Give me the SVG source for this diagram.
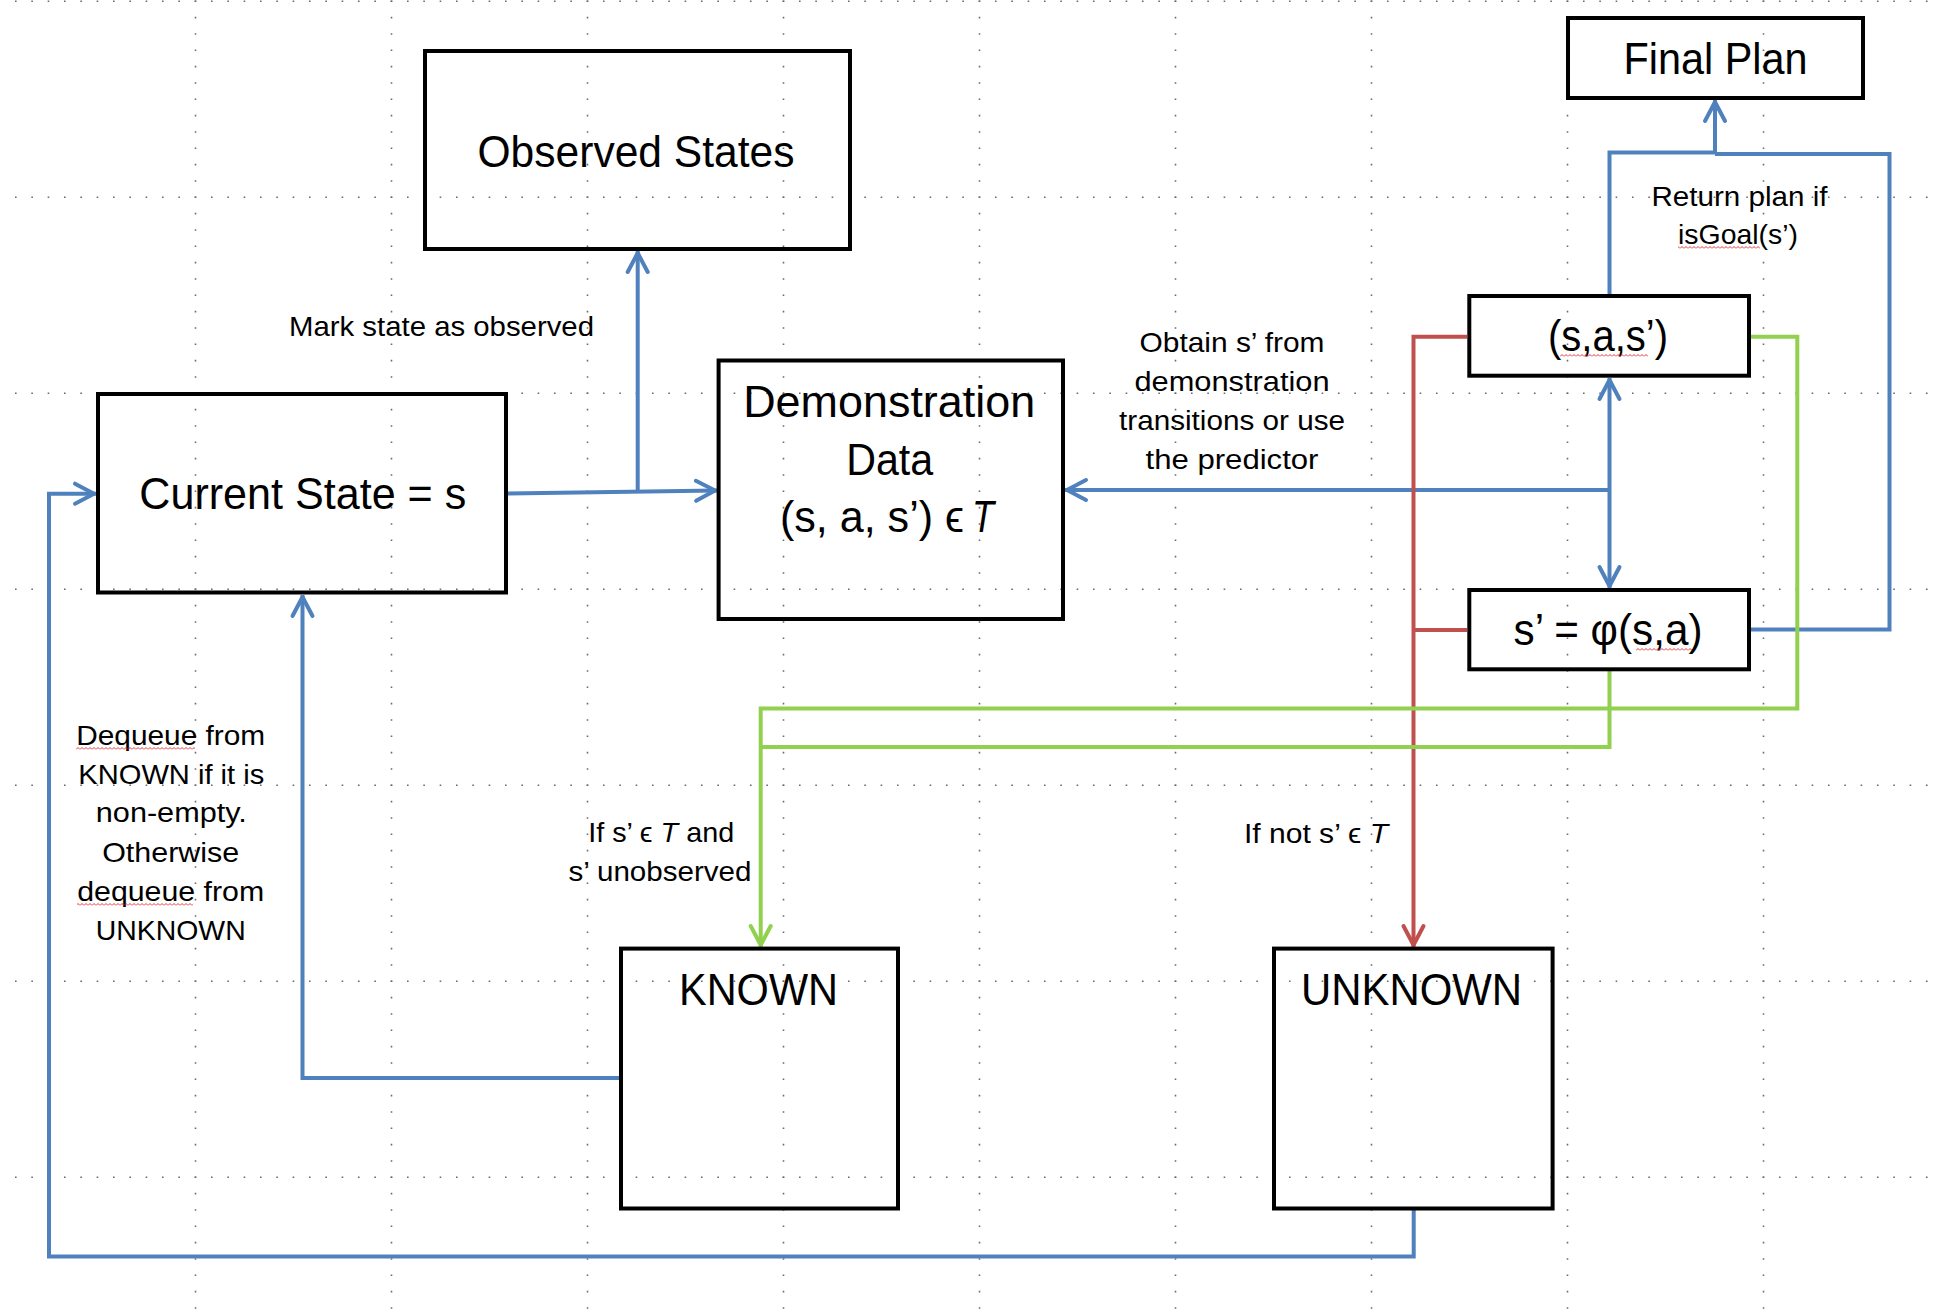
<svg xmlns="http://www.w3.org/2000/svg" width="1936" height="1310" viewBox="0 0 1936 1310">
<style>
.box{fill:none;stroke:#000;stroke-width:4}
.big{font-family:"Liberation Sans",Arial,sans-serif;font-size:44px;fill:#000;text-anchor:middle}
.sm{font-family:"Liberation Sans",Arial,sans-serif;font-size:27.5px;fill:#000;text-anchor:middle}
.st{text-anchor:start}
.it{font-style:italic}
.c{fill:none;stroke-width:4;stroke-linejoin:miter}
.blue{stroke:#4F81BD}
.red{stroke:#C0504D}
.green{stroke:#92D050}
.grid line{stroke:#6b6b6b;stroke-width:1.6;stroke-dasharray:1.6 14.733}
</style>
<defs>
<marker id="ab" markerUnits="userSpaceOnUse" orient="auto-start-reverse" markerWidth="40" markerHeight="40" refX="0" refY="0" viewBox="-30 -20 40 40" style="overflow:visible">
<path d="M-21,-10 L-2,0 L-21,10" fill="none" stroke="#4F81BD" stroke-width="4" stroke-linecap="round" stroke-linejoin="round"/>
</marker>
<marker id="ar" markerUnits="userSpaceOnUse" orient="auto" markerWidth="40" markerHeight="40" refX="0" refY="0" viewBox="-30 -20 40 40" style="overflow:visible">
<path d="M-21,-10 L-2,0 L-21,10" fill="none" stroke="#C0504D" stroke-width="4" stroke-linecap="round" stroke-linejoin="round"/>
</marker>
<marker id="ag" markerUnits="userSpaceOnUse" orient="auto" markerWidth="40" markerHeight="40" refX="0" refY="0" viewBox="-30 -20 40 40" style="overflow:visible">
<path d="M-21,-10 L-2,0 L-21,10" fill="none" stroke="#92D050" stroke-width="4" stroke-linecap="round" stroke-linejoin="round"/>
</marker>
<pattern id="sq" width="4" height="3" patternUnits="userSpaceOnUse">
<path d="M0,2.5 L2,0.5 L4,2.5" fill="none" stroke="#E02020" stroke-width="0.9"/>
</pattern>
</defs>
<rect width="1936" height="1310" fill="#fff"/>
<g class="grid">
<line x1="15" y1="1.3" x2="1936" y2="1.3"/>
<line x1="15" y1="197.3" x2="1936" y2="197.3"/>
<line x1="15" y1="393.3" x2="1936" y2="393.3"/>
<line x1="15" y1="589.3" x2="1936" y2="589.3"/>
<line x1="15" y1="785.3" x2="1936" y2="785.3"/>
<line x1="15" y1="981.3" x2="1936" y2="981.3"/>
<line x1="15" y1="1177.3" x2="1936" y2="1177.3"/>
<line x1="195.5" y1="0.5" x2="195.5" y2="1310"/>
<line x1="391.5" y1="0.5" x2="391.5" y2="1310"/>
<line x1="587.5" y1="0.5" x2="587.5" y2="1310"/>
<line x1="783.5" y1="0.5" x2="783.5" y2="1310"/>
<line x1="979.5" y1="0.5" x2="979.5" y2="1310"/>
<line x1="1175.5" y1="0.5" x2="1175.5" y2="1310"/>
<line x1="1371.5" y1="0.5" x2="1371.5" y2="1310"/>
<line x1="1567.5" y1="0.5" x2="1567.5" y2="1310"/>
<line x1="1763.5" y1="0.5" x2="1763.5" y2="1310"/>
</g>
<g id="connectors">
<path class="c blue" d="M506,493.5 L717,490.5" marker-end="url(#ab)"/>
<path class="c blue" d="M637.7,491 V251" marker-end="url(#ab)"/>
<path class="c blue" d="M1609.5,490 H1065" marker-end="url(#ab)"/>
<path class="c blue" d="M1609.5,378 V588" marker-start="url(#ab)" marker-end="url(#ab)"/>
<path class="c blue" d="M1609.5,294 V152.5 H1715 M1715,154 H1889.5 V629.5 H1751"/>
<path class="c blue" d="M1715,154 V100" marker-end="url(#ab)"/>
<path class="c blue" d="M619,1078 H302.5 V595" marker-end="url(#ab)"/>
<path class="c blue" d="M1413.7,1210 V1256.5 H49 V493.7 H96" marker-end="url(#ab)"/>
<path class="c red" d="M1467,336.7 H1413.5 V947" marker-end="url(#ar)"/>
<path class="c red" d="M1467,630 H1413.5"/>
<path class="c green" d="M1751,336.7 H1797.3 V708.5 H760.7 V947" marker-end="url(#ag)"/>
<path class="c green" d="M1609.5,671 V747 H760.7"/>
</g>
<g id="edge-labels">
<text class="sm" x="441.5" y="336" textLength="305" lengthAdjust="spacingAndGlyphs">Mark state as observed</text>
<text class="sm" x="1232" y="351.7" textLength="185" lengthAdjust="spacingAndGlyphs">Obtain s’ from</text>
<text class="sm" x="1232" y="390.6" textLength="195" lengthAdjust="spacingAndGlyphs">demonstration</text>
<text class="sm" x="1232" y="430" textLength="226" lengthAdjust="spacingAndGlyphs">transitions or use</text>
<text class="sm" x="1232" y="468.7" textLength="173" lengthAdjust="spacingAndGlyphs">the predictor</text>
<text class="sm" x="1739.5" y="205.5" textLength="176" lengthAdjust="spacingAndGlyphs">Return plan if</text>
<text class="sm" x="1738" y="244.4" textLength="120" lengthAdjust="spacingAndGlyphs">isGoal(s’)</text>
<rect x="1678" y="246" width="82" height="3" fill="url(#sq)"/>
<text class="sm" x="170.7" y="744.8" textLength="189" lengthAdjust="spacingAndGlyphs">Dequeue from</text>
<rect x="76" y="747" width="119" height="3" fill="url(#sq)"/>
<text class="sm" x="171.3" y="783.7" textLength="186" lengthAdjust="spacingAndGlyphs">KNOWN if it is</text>
<text class="sm" x="171.3" y="822" textLength="151" lengthAdjust="spacingAndGlyphs">non-empty.</text>
<text class="sm" x="170.7" y="861.8" textLength="137" lengthAdjust="spacingAndGlyphs">Otherwise</text>
<text class="sm" x="170.7" y="900.6" textLength="187" lengthAdjust="spacingAndGlyphs">dequeue from</text>
<rect x="77" y="903" width="116" height="3" fill="url(#sq)"/>
<text class="sm" x="170.7" y="940.3" textLength="150" lengthAdjust="spacingAndGlyphs">UNKNOWN</text>
<text class="sm" x="661.2" y="842.3" textLength="146" lengthAdjust="spacingAndGlyphs">If s’ ϵ <tspan class="it">T</tspan> and</text>
<text class="sm" x="660" y="881" textLength="183" lengthAdjust="spacingAndGlyphs">s’ unobserved</text>
<text class="sm" x="1316" y="843" textLength="144" lengthAdjust="spacingAndGlyphs">If not s’ ϵ <tspan class="it">T</tspan></text>
</g>
<g id="observed-states">
<rect class="box" x="425" y="51" width="425" height="198"/>
<text class="big" x="636" y="167" textLength="317" lengthAdjust="spacingAndGlyphs">Observed States</text>
</g>
<g id="current-state">
<rect class="box" x="98" y="394" width="408" height="198.5"/>
<text class="big" x="302.8" y="509" textLength="327" lengthAdjust="spacingAndGlyphs">Current State = s</text>
</g>
<g id="demonstration-data">
<rect class="box" x="718.6" y="360.5" width="344.4" height="258.5"/>
<text class="big" x="889.2" y="417" textLength="292" lengthAdjust="spacingAndGlyphs">Demonstration</text>
<text class="big" x="889.7" y="475" textLength="87" lengthAdjust="spacingAndGlyphs">Data</text>
<text class="big st" x="780" y="532" textLength="184" lengthAdjust="spacingAndGlyphs">(s, a, s’) ϵ</text>
<text class="big st it" x="972" y="532" textLength="22" lengthAdjust="spacingAndGlyphs">T</text>
</g>
<g id="final-plan">
<rect class="box" x="1568" y="18" width="295" height="80"/>
<text class="big" x="1715.5" y="74" textLength="184" lengthAdjust="spacingAndGlyphs">Final Plan</text>
</g>
<g id="transition">
<rect class="box" x="1469.3" y="296" width="279.7" height="79.7"/>
<text class="big" x="1608" y="351" textLength="120" lengthAdjust="spacingAndGlyphs">(s,a,s’)</text>
<rect x="1560" y="354" width="88" height="3" fill="url(#sq)"/>
</g>
<g id="predictor">
<rect class="box" x="1469.3" y="590" width="279.7" height="79.3"/>
<text class="big" x="1608" y="645" textLength="189" lengthAdjust="spacingAndGlyphs">s’ = φ(s,a)</text>
<rect x="1636" y="648" width="56" height="3" fill="url(#sq)"/>
</g>
<g id="known">
<rect class="box" x="621" y="948.6" width="277" height="259.9"/>
<text class="big" x="758.5" y="1004.6" textLength="159" lengthAdjust="spacingAndGlyphs">KNOWN</text>
</g>
<g id="unknown">
<rect class="box" x="1274" y="948.6" width="278.6" height="259.9"/>
<text class="big" x="1411.5" y="1004.6" textLength="221" lengthAdjust="spacingAndGlyphs">UNKNOWN</text>
</g>
</svg>
